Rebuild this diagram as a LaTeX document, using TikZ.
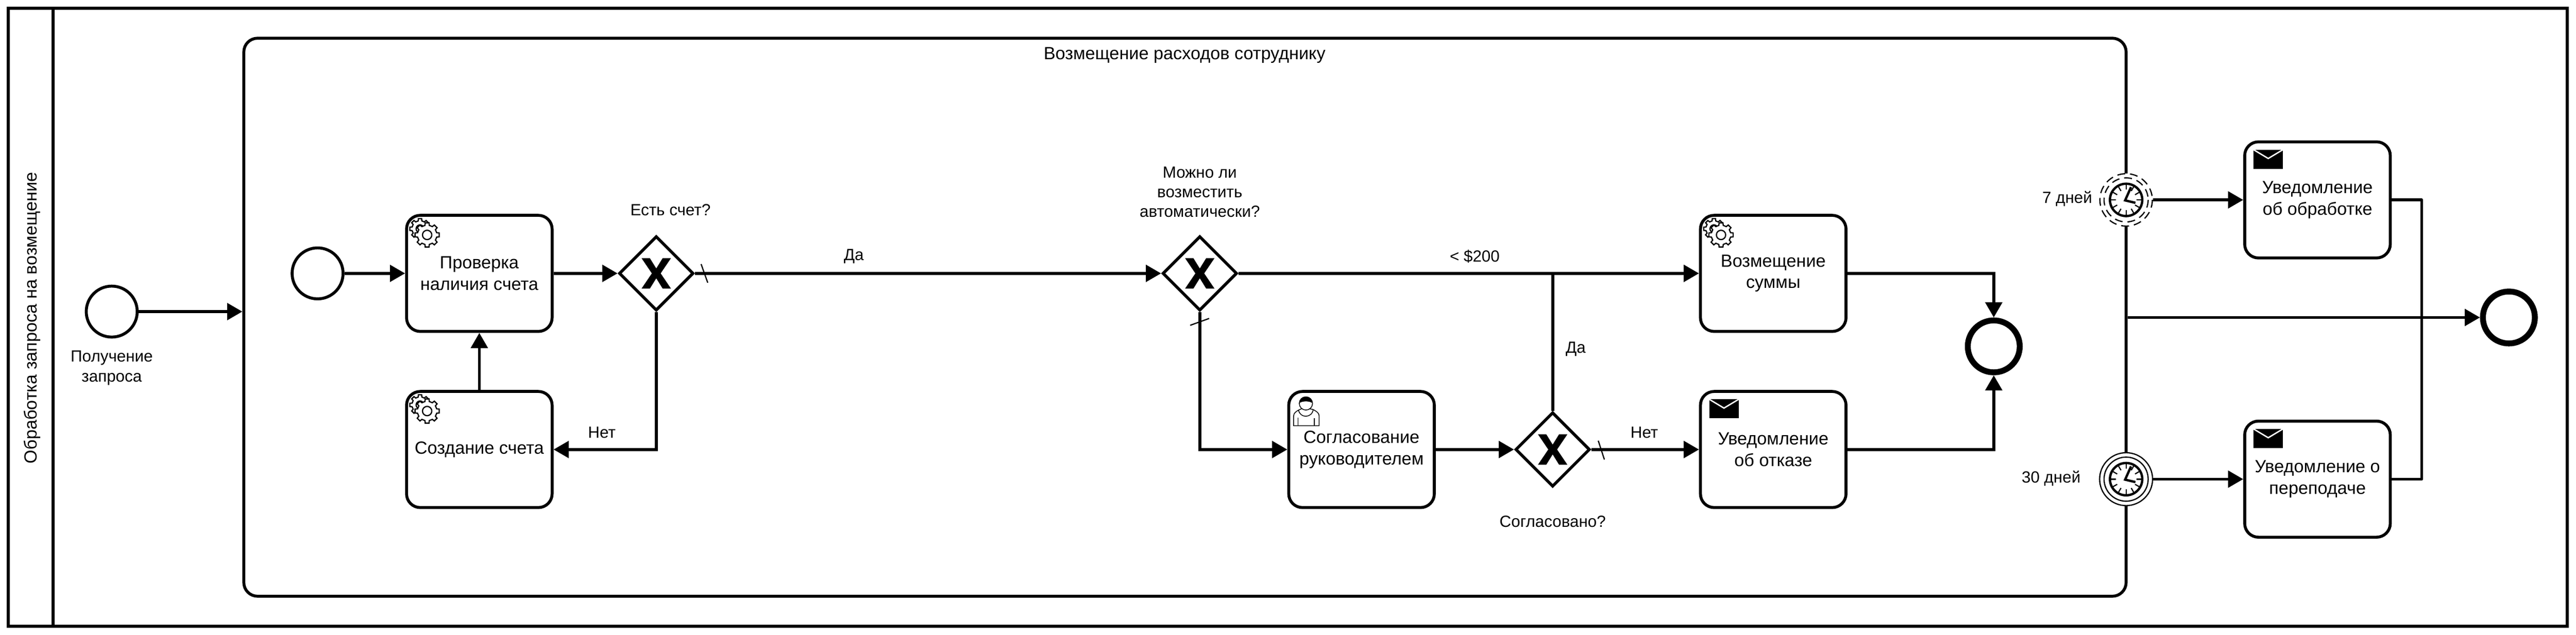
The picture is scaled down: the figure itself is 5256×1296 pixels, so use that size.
\documentclass[tikz,border=0pt]{standalone}
\usepackage{fontspec}
\setmainfont{Liberation Sans}
\usetikzlibrary{arrows.meta, shapes.geometric}

\begin{document}
\begin{tikzpicture}[x = 0.5pt, y = -0.5pt, line width = 3pt,
                        lanetitle/.style = {font = \fontsize{18pt}{21pt}\selectfont, rotate = 90},
                        frame/.style = {rectangle, draw, minimum width = 2610.75pt, minimum height = 630.75pt},
                        subproc/.style = {rectangle, draw, rounded corners = 14pt, minimum width = 1920.25pt, minimum height = 569.5pt},
                        task/.style = {rectangle, draw, fill = white, rounded corners = 14pt, align = center, minimum width = 148.5pt, minimum height = 118.5pt, font = \fontsize{18pt}{22pt}\selectfont},
                        gateway/.style = {diamond, draw, fill = white, minimum width = 76pt, minimum height = 76pt, inner sep = 0pt},
                        startevent/.style = {circle, draw, fill = white, minimum size = 52pt, inner sep = 0pt},
                        endevent/.style = {circle, draw, fill = white, line width = 6pt, minimum size = 53pt, inner sep = 0pt},
                        timerring/.style = {circle, draw, fill = white, line width = 1.25pt, minimum size = 54pt, inner sep = 0pt},
                        dashring/.style = {timerring, draw = none},
                        titlelabel/.style = {inner sep = 0pt, font = \fontsize{18pt}{21pt}\selectfont},
                        flowlabel/.style = {align = center, inner sep = 0pt, font = \fontsize{16.5pt}{20pt}\selectfont},
                        flow/.style = {-{Triangle[length = 15.5pt, width = 17pt]}},
                        plainflow/.style = {line join = round},
                        slash/.style = {line width = 1.25pt},
                        xmark/.pic = {\fill (-30,-31) -- (-13,-31) -- (0,-10) -- (13,-31) -- (30,-31) -- (9,0) -- (30,31) -- (13,31) -- (0,10) -- (-13,31) -- (-30,31) -- (-9,0) -- cycle;},
                        gearicon/.pic = {
                          \foreach \cx/\cy/\ro/\ri/\rh in {30.5/30.5/21/16.5/8, 45/43/25/20/9.5}{
                            \begin{scope}[shift = {(\cx,\cy)}]
                              \draw [line width = 1.25pt, fill = white] (-13:\ri) \foreach \a in {0,45,...,315}{ -- (\a-13:\ri) -- (\a-9:\ro) -- (\a+9:\ro) -- (\a+13:\ri)} -- cycle;
                              \draw [line width = 1.25pt] (0,0) circle [radius = \rh];
                            \end{scope}
                          }
                        },
                        mailicon/.pic = {
                          \fill (21,19) rectangle (81,58);
                          \draw [white, line width = 1.4pt] (21,19) -- (51,37) -- (81,19);
                        },
                        usericon/.pic = {
                          \draw [line width = 0.8pt, fill = white] (13,73) -- (13,53) .. controls (13,47) and (18,44) .. (23,41) -- (30,38) -- (44,38) -- (53,40) .. controls (60,44) and (65,47) .. (65,53) -- (65,73) -- cycle;
                          \draw [line width = 0.8pt, fill = white] (38,27.5) circle [radius = 13.5];
                          \fill (24.5,27) .. controls (24,9) and (52,9) .. (51.5,27) .. controls (46,22) and (30,22) .. (24.5,27) -- cycle;
                          \draw [line width = 0.8pt] (23,41) .. controls (26,58) and (50,58) .. (53,40);
                          \draw [line width = 0.8pt] (22,57) -- (22,73);
                          \draw [line width = 0.8pt] (55,58) -- (55,73);
                        },
                        clockface/.pic = {
                          \draw [line width = 2.4pt, fill = white] (0,0) circle [radius = 33];
                          \foreach \a in {0,30,...,330}{
                            \draw [line width = 1.2pt] (\a:21) -- (\a:31);
                          }
                          \draw [line width = 2.4pt] (10,-26) -- (-2,1) -- (19,6);
                        }]
      \useasboundingbox (0,0) rectangle (5256,1296);

      \node [frame] (pool) at (2627.5,647.5){};
      \coordinate (headtop) at (108,17);
      \coordinate (headbot) at (108,1278);
      \draw (headtop) -- (headbot);
      \node [lanetitle] (lanename) at (66,649){Обработка запроса на возмещение};

      \node [subproc] (refundproc) at (2417.75,647.5){};
      \node [titlelabel] (proctitle) at (2417,113){Возмещение расходов сотруднику};

      \node [startevent] (startrequest) at (228,636){};
      \node [flowlabel] (requestname) at (228,751){Получение\\запроса};
      \node [startevent] (startinner) at (648,558){};

      \node [task] (taskcheck) at (978,558){Проверка\\наличия счета};
      \node [task] (taskcreate) at (978,917.5){Создание счета};
      \node [task] (taskapprove) at (2778,917.5){Согласование\\руководителем};
      \node [task] (taskrefund) at (3618,558){Возмещение\\суммы};
      \node [task] (taskreject) at (3618,917.5){Уведомление\\об отказе};
      \node [task] (tasknotifyone) at (4728.5,408){Уведомление\\об обработке};
      \node [task] (tasknotifytwo) at (4728.5,978){Уведомление о\\переподаче};

      \node [gateway] (gwcheck) at (1339,558){};
      \node [gateway] (gwauto) at (2448,558){};
      \node [gateway] (gwagree) at (3168,917.5){};
      \pic at (gwcheck) {xmark};
      \pic at (gwauto) {xmark};
      \pic at (gwagree) {xmark};

      \node [endevent] (endmerge) at (4068,707){};
      \node [endevent] (endfinal) at (5119,648){};

      \coordinate (joinyes) at (3168,558);
      \coordinate (joinnotify) at (4941,408);

      \draw [flow] (startrequest) -- (startrequest -| refundproc.west);
      \draw [flow] (startinner) -- (taskcheck);
      \draw [flow] (taskcheck) -- (gwcheck);
      \draw [flow] (taskcreate) -- (taskcheck);
      \draw [flow] (gwcheck) -- (gwauto);
      \draw [flow] (gwcheck.south) |- (taskcreate.east);
      \draw [flow] (gwauto) -- (taskrefund);
      \draw [flow] (gwauto.south) |- (taskapprove.west);
      \draw [flow] (taskapprove) -- (gwagree);
      \draw [plainflow] (gwagree.north) -- (joinyes);
      \draw [flow] (gwagree) -- (taskreject);
      \draw [flow] (taskrefund.east) -| (endmerge.north);
      \draw [flow] (taskreject.east) -| (endmerge.south);
      \draw [flow] (refundproc.east |- endfinal) -- (endfinal);

      \draw [slash] (1430.5,539) -- (1444,577);
      \draw [slash] (2428.5,664) -- (2467,650);
      \draw [slash] (3261,899.5) -- (3273.5,938);

      \node [dashring] (timerseven) at (4338,408){};
      \draw [line width = 1.25pt, dash pattern = on 8pt off 5pt] (timerseven.center) circle [radius = 53.5];
      \draw [line width = 1.25pt, dash pattern = on 8pt off 5pt] (timerseven.center) circle [radius = 45];
      \node [timerring] (timerthirty) at (4338,978){};
      \draw [line width = 1.25pt] (timerthirty.center) circle [radius = 45];
      \pic at (timerseven) {clockface};
      \pic at (timerthirty) {clockface};

      \draw [flow] (timerseven) -- (tasknotifyone);
      \draw [flow] (timerthirty) -- (tasknotifytwo);
      \draw [plainflow] (tasknotifyone.east) -- (joinnotify) |- (tasknotifytwo.east);

      \pic at (taskcheck.north west) {gearicon};
      \pic at (taskcreate.north west) {gearicon};
      \pic at (taskrefund.north west) {gearicon};
      \pic at (taskapprove.north west) {usericon};
      \pic at (taskreject.north west) {mailicon};
      \pic at (tasknotifyone.north west) {mailicon};
      \pic at (tasknotifytwo.north west) {mailicon};

      \node [flowlabel] (checkname) at (1368,429){Есть счет?};
      \node [flowlabel] (yesone) at (1742,523){Да};
      \node [flowlabel] (noone) at (1228,883){Нет};
      \node [flowlabel] (autoname) at (2448,392){Можно ли\\возместить\\автоматически?};
      \node [flowlabel] (limitname) at (3009,523){< \$200};
      \node [flowlabel] (yestwo) at (3215,712){Да};
      \node [flowlabel] (notwo) at (3355,883){Нет};
      \node [flowlabel] (agreename) at (3168,1065){Согласовано?};
      \node [flowlabel] (sevendays) at (4218,406){7 дней};
      \node [flowlabel] (thirtydays) at (4185,976){30 дней};
      \end{tikzpicture}
\end{document}
